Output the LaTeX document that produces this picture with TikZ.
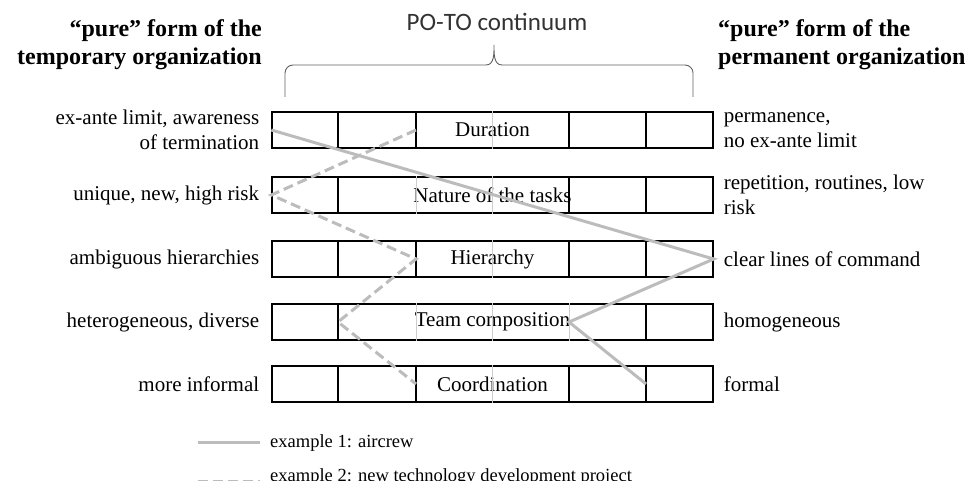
\documentclass[tikz,border=0pt]{standalone}
\usepackage{fontspec}
\setmainfont{Liberation Serif}
\newfontfamily\calibri{Carlito}
\definecolor{lineGray}{RGB}{188,188,188}
\definecolor{cellGray}{RGB}{205,205,205}
\definecolor{braceGray}{RGB}{95,95,95}
\begin{document}
\begin{tikzpicture}[x=1pt,y=-1pt,
    rowBar/.style={draw,line width=1.3pt,minimum width=441pt,minimum height=36pt,
      inner sep=0pt,font=\fontsize{21}{25}\selectfont},
    sideLabel/.style={font=\fontsize{21}{25}\selectfont,inner sep=0pt},
    headLabel/.style={font=\fontsize{24}{28}\selectfont\bfseries,inner sep=0pt},
    legLabel/.style={font=\fontsize{18.5}{22}\selectfont,inner sep=0pt,anchor=base west},
    aircrew/.style={draw=lineGray,line width=3pt},
    newTech/.style={aircrew,dash pattern=on 10pt off 5pt}
]
\useasboundingbox (0,0) rectangle (973,481);
  % column borders
  \coordinate (col1) at (338,0);
  \coordinate (col2) at (416,0);
  \coordinate (col3) at (492,0);
  \coordinate (col4) at (569,0);
  \coordinate (col5) at (646,0);
  % the five rows
  \node[rowBar] (dur) at (492.5,130) {Duration};
  \node[rowBar] (nat) at (492.5,195) {Nature of the tasks};
  \node[rowBar] (hier) at (492.5,259) {Hierarchy};
  \node[rowBar] (team) at (492.5,322) {Team composition};
  \node[rowBar] (coord) at (492.5,384) {Coordination};
  \foreach \r/\blk/\gry in {dur/{1,2,4,5}/{3},nat/{1,4,5}/{2,3},hier/{1,2,4,5}/{3},
      team/{1,5}/{2,3,4},coord/{1,2,4,5}/{3}}{
    \foreach \c in \gry
      \draw[cellGray,line width=1pt] (\r.north -| col\c) -- (\r.south -| col\c);
    \foreach \c in \blk
      \draw[line width=1.3pt] (\r.north -| col\c) -- (\r.south -| col\c);
  }
  % left and right descriptions
  \node[sideLabel,anchor=east,align=right] (durL) at ([xshift=-12pt]dur.west) {ex-ante limit, awareness\\of termination};
  \node[sideLabel,anchor=east] (natL) at ([xshift=-12pt]nat.west) {unique, new, high risk};
  \node[sideLabel,anchor=east] (hierL) at ([xshift=-12pt]hier.west) {ambiguous hierarchies};
  \node[sideLabel,anchor=east] (teamL) at ([xshift=-12pt]team.west) {heterogeneous, diverse};
  \node[sideLabel,anchor=east] (coordL) at ([xshift=-12pt]coord.west) {more informal};
  \node[sideLabel,anchor=west,align=left] (durR) at ([xshift=10pt]dur.east) {permanence,\\no ex-ante limit};
  \node[sideLabel,anchor=west,align=left] (natR) at ([xshift=10pt]nat.east) {repetition, routines, low\\risk};
  \node[sideLabel,anchor=west] (hierR) at ([xshift=10pt]hier.east) {clear lines of command};
  \node[sideLabel,anchor=west] (teamR) at ([xshift=10pt]team.east) {homogeneous};
  \node[sideLabel,anchor=west] (coordR) at ([xshift=10pt]coord.east) {formal};
  % headings and brace
  \node[headLabel,anchor=east,align=right] (tempHead) at (262,45) {“pure” form of the\\temporary organization};
  \node[headLabel,anchor=west,align=left] (permHead) at (718,45) {“pure” form of the\\permanent organization};
  \node[font=\calibri\fontsize{25}{29}\selectfont,text=black!80,inner sep=0pt] (poto) at (497,22) {PO-TO continuum};
  \draw[braceGray,line width=0.9pt] (285,97) -- (285,73) to[out=90,in=180] (293,65)
    -- (486,65) to[out=0,in=-90] (494,45) to[out=-90,in=180] (502,65)
    -- (685,65) to[out=0,in=90] (693,73) -- (693,97);
  % the two examples
  \draw[aircrew] (dur.west) -- (hier.east) -- (team.center -| col4) -- (coord.center -| col5);
  \draw[newTech] (dur.center -| col2) -- (nat.west) -- (hier.center -| col2)
    -- (team.center -| col1) -- (coord.center -| col2);
  % legend
  \coordinate (leg1) at (198,442);
  \coordinate (leg2) at (198,481);
  \node[legLabel] (legText1) at (270,447.5) {example 1: aircrew};
  \node[legLabel] (legText2) at (270,481) {example 2: new technology development project};
  \draw[aircrew] (leg1) -- ([xshift=-10pt]leg1 -| legText1.west);
  \draw[newTech] (leg2) -- ([xshift=-10pt]leg2 -| legText2.west);
\end{tikzpicture}
\end{document}
